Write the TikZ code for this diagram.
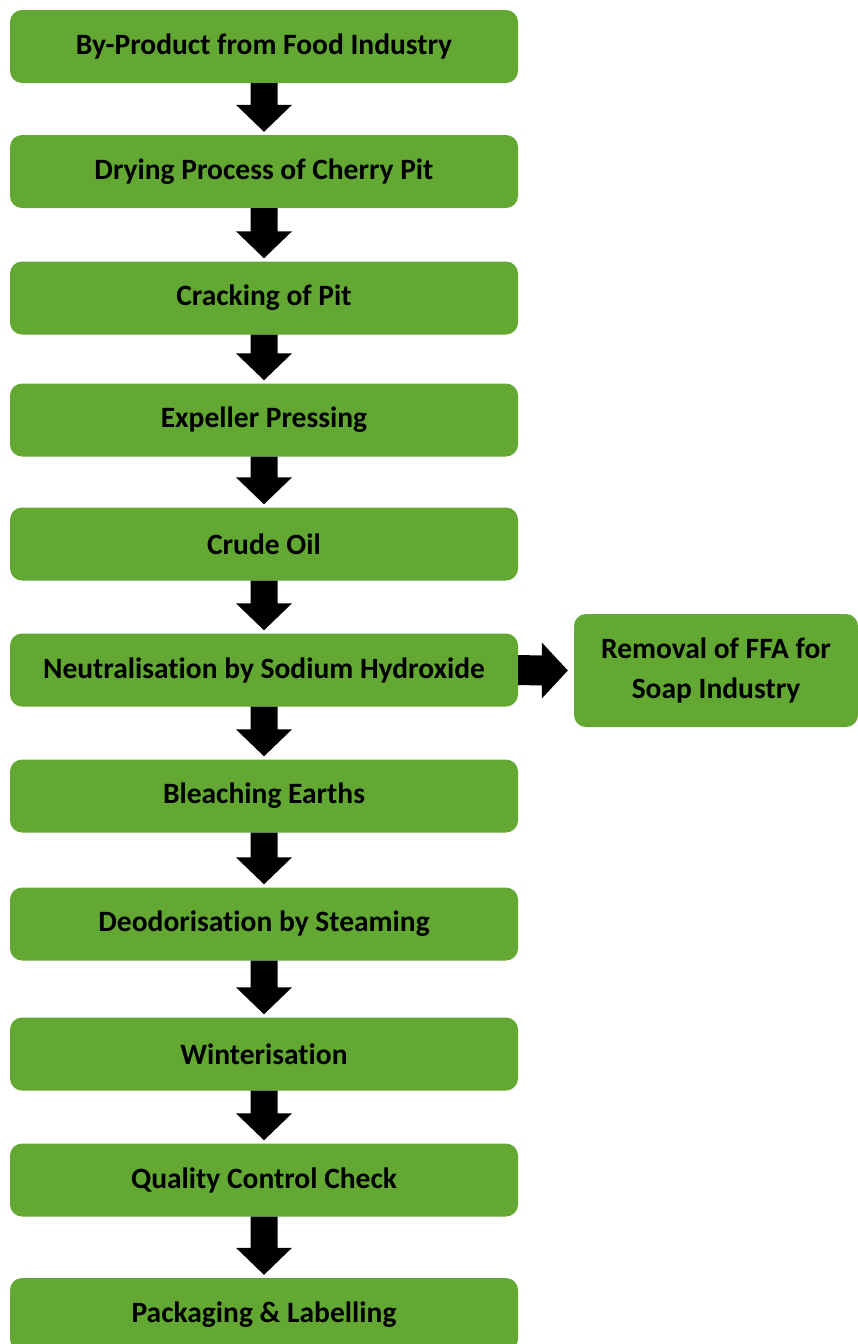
\documentclass[tikz,border=0pt]{standalone}
\usepackage{fontspec}
\setmainfont{Carlito}[Ligatures=NoCommon]
\usetikzlibrary{calc}
\definecolor{stepgreen}{HTML}{62A832}
\begin{document}
\begin{tikzpicture}[x=1pt,y=-1pt,
  procbox/.style={fill=stepgreen, rounded corners=12pt, minimum width=508pt, minimum height=73pt, inner sep=0pt, align=center, font=\fontsize{29.5}{40}\selectfont\bfseries}]
\useasboundingbox (0,0) rectangle (858,1344);
\clip (0,0) rectangle (858,1344);
\node[procbox] (byprod) at (264,46.5) {By-Product from Food Industry};
\node[procbox] (drying) at (264,171.5) {Drying Process of Cherry Pit};
\node[procbox] (crack) at (264,298) {Cracking of Pit};
\node[procbox] (expel) at (264,420) {Expeller Pressing};
\node[procbox] (crude) at (264,544) {Crude Oil};
\node[procbox] (neutral) at (264,670) {Neutralisation by Sodium Hydroxide};
\node[procbox] (bleach) at (264,796) {Bleaching Earths};
\node[procbox] (deodor) at (264,924) {Deodorisation by Steaming};
\node[procbox] (winter) at (264,1054) {Winterisation};
\node[procbox] (qcheck) at (264,1180) {Quality Control Check};
\node[procbox] (pack) at (264,1314.5) {Packaging \& Labelling};
\node[procbox, minimum width=284pt, minimum height=113pt] (ffa) at (716,670.5) {Removal of FFA for\\Soap Industry};
\foreach \a/\b in {byprod/drying, drying/crack, crack/expel, expel/crude, crude/neutral, neutral/bleach, bleach/deodor, deodor/winter, winter/qcheck, qcheck/pack}
  \fill ($(\a.south)+(-13.5,0)$) -- ($(\a.south)+(13.5,0)$) -- ($(\b.north)+(13.5,-30)$) -- ($(\b.north)+(28,-30)$) -- ($(\b.north)+(0,-3)$) -- ($(\b.north)+(-28,-30)$) -- ($(\b.north)+(-13.5,-30)$) -- cycle;
\fill ($(neutral.east)+(0,-15)$) -- ($(ffa.west)+(-32,-15)$) -- ($(ffa.west)+(-32,-28)$) -- ($(ffa.west)+(-6,0)$) -- ($(ffa.west)+(-32,28)$) -- ($(ffa.west)+(-32,15)$) -- ($(neutral.east)+(0,15)$) -- cycle;
\end{tikzpicture}
\end{document}
